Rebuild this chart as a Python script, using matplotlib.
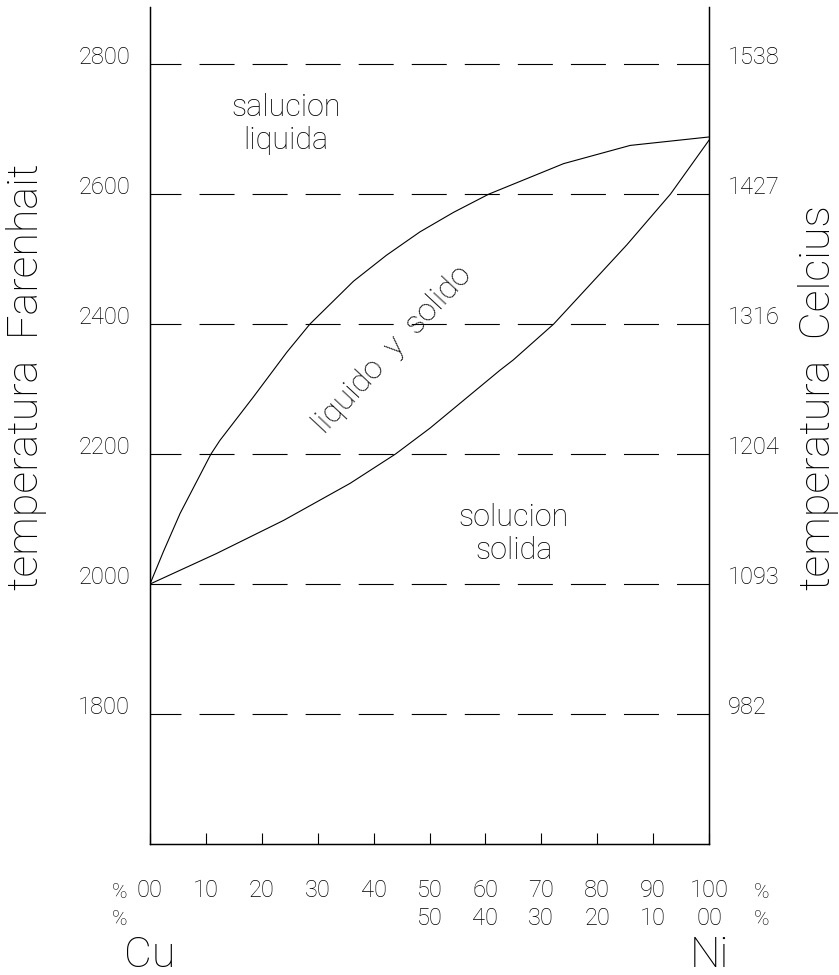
import matplotlib
matplotlib.use('Agg')
import matplotlib.pyplot as plt

# diagrama de fases Cu-Ni (% Ni, grados F)
liq_ni = [0, 2.4, 5.4, 10.9, 12.5, 18.5, 24.5, 28.6, 36.4, 42.3, 48.3, 54.3,
          60.6, 74.0, 85.9, 100]
liq_t = [2000, 2050, 2109, 2200, 2221, 2288, 2357, 2400, 2466, 2506, 2542,
         2572, 2600, 2647, 2675, 2688]
sol_ni = [0, 11.9, 23.9, 35.8, 43.9, 50.1, 62.6, 65.0, 72.2, 85.3, 93.1, 100]
sol_t = [2000, 2047, 2098, 2155, 2200, 2240, 2329, 2345, 2400, 2522, 2600, 2683]

temp_f = [1800, 2000, 2200, 2400, 2600, 2800]
temp_f_labels = ['1800', '2000', '2200', '2400', '2600', '2800']
temp_c_labels = ['982', '1093', '1204', '1316', '1427', '1538']

ni_ticks = [0, 10, 20, 30, 40, 50, 60, 70, 80, 90, 100]
ni_labels = ['00', '10', '20', '30', '40', '50', '60', '70', '80', '90', '100']
cu_labels = ['', '', '', '', '', '50', '40', '30', '20', '10', '00']

FONT = ['Roboto', 'DejaVu Sans']

plt.rcParams['lines.scale_dashes'] = False
plt.rcParams['ytick.alignment'] = 'baseline'
plt.rcParams['font.family'] = FONT
plt.rcParams['font.weight'] = 'light'

fig = plt.figure(figsize=(8.39, 9.75), dpi=100)
ax = fig.add_axes([150 / 839, 131 / 975, 559 / 839, 837 / 975])
ax.set_xlim(0, 100)
ax.set_ylim(1600, 2888)

# lineas de referencia a trazos
for t in temp_f:
    ax.axhline(t, color='black', lw=0.8, linestyle=(2.9, (25.2, 13.0)))

ax.plot(liq_ni, liq_t, color='black', lw=0.8)
ax.plot(sol_ni, sol_t, color='black', lw=0.8)

ax.spines['top'].set_visible(False)
for s in ['left', 'right', 'bottom']:
    ax.spines[s].set_linewidth(1.0)

ax.set_yticks(temp_f, temp_f_labels, fontsize=17)
ax.tick_params(axis='y', length=0, pad=14.4)
ax.set_xticks(ni_ticks, ni_labels, fontsize=17)
ax.tick_params(axis='x', direction='in', length=8, width=0.8, pad=25)

ax2 = ax.twinx()
ax2.set_ylim(ax.get_ylim())
ax2.spines['top'].set_visible(False)
ax2.set_yticks(temp_f, temp_c_labels, fontsize=17)
ax2.tick_params(axis='y', length=0, pad=13.7)

# segunda fila (% Cu) y simbolos
xt = ax.get_xaxis_transform()
for x, lab in zip(ni_ticks, cu_labels):
    if lab:
        ax.text(x, -0.0968, lab, transform=xt, ha='center', va='baseline',
                fontsize=17)
for x in [-5.5, 109.5]:
    ax.text(x, -0.0645, '%', transform=xt, ha='center', va='baseline',
            fontsize=15)
    ax.text(x, -0.0968, '%', transform=xt, ha='center', va='baseline',
            fontsize=15)
ax.text(0, -0.147, 'Cu', transform=xt, ha='center', va='baseline',
        fontsize=31)
ax.text(100, -0.147, 'Ni', transform=xt, ha='center', va='baseline',
        fontsize=31)

# regiones del diagrama
ax.text(24.3, 2708, 'salucion\nliquida', ha='center', va='center',
        fontsize=22)
ax.text(65.1, 2077, 'solucion\nsolida', ha='center', va='center',
        fontsize=22)
ax.text(43.3, 2360, 'liquido  y  solido', ha='center', va='center',
        rotation=47, rotation_mode='anchor', fontsize=23)

fig.text(38 / 839, 385 / 975, 'temperatura  Farenhait', rotation=90,
         rotation_mode='anchor', ha='left', va='baseline', fontsize=31)
fig.text(830 / 839, 385 / 975, 'temperatura  Celcius', rotation=90,
         rotation_mode='anchor', ha='left', va='baseline', fontsize=31)

fig.savefig('out.png', dpi=100)
